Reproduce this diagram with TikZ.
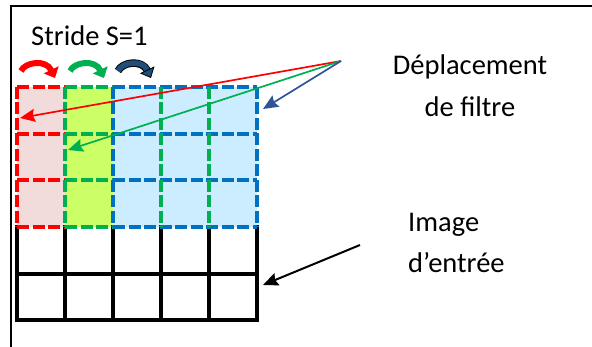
\documentclass[tikz,border=0pt]{standalone}
\usepackage{fontspec}
\setmainfont{Carlito}
\usetikzlibrary{arrows.meta}
\definecolor{cred}{HTML}{FF0000}
\definecolor{cgreen}{HTML}{00B050}
\definecolor{cblue}{HTML}{0070C0}
\definecolor{cdark}{HTML}{1F4E79}
\definecolor{cptr}{HTML}{2F5597}
\definecolor{fpink}{HTML}{F2DCDB}
\definecolor{flime}{HTML}{CCFF66}
\definecolor{fsky}{HTML}{CCECFF}
\begin{document}
\begin{tikzpicture}[x=1pt,y=-1pt,
  dashline/.style={line width=4pt, dash pattern=on 12pt off 3.5pt},
  gridline/.style={line width=4pt, black, line cap=rect},
  ptr/.style={line width=1.7pt, -{Stealth[length=15pt,width=13pt,inset=2pt]}},
  lbl/.style={font=\fontsize{28.5}{34}\selectfont, inner sep=0pt},
  bendarrow/.style={line width=6pt, -{Triangle[length=9pt,width=16pt]}}]
\useasboundingbox (0,0) rectangle (592,347);
% frame
\draw[line width=1.5pt] (11,347) -- (11,6) -- (592,6);
% fills
\fill[fpink] (17,87) rectangle (65,227);
\fill[flime] (65,87) rectangle (113,227);
\fill[fsky] (113,87) rectangle (257,227);
% black input grid
\foreach \x in {17,65,113,161,209,257} \draw[gridline] (\x,227) -- (\x,320);
\foreach \y in {273.67,320} \draw[gridline] (17,\y) -- (257,\y);
% dashed filter grid
\foreach \y in {87,133.67,180.33,227} {
  \draw[dashline, cred] (17,\y) -- (65,\y);
  \draw[dashline, cgreen] (65,\y) -- (113,\y);
  \draw[dashline, cblue] (113,\y) -- (257,\y);
}
\draw[dashline, cred] (17,87) -- (17,227);
\draw[dashline, cgreen] (65,87) -- (65,227);
\draw[dashline, cblue] (113,87) -- (113,227);
\draw[dashline, cgreen] (161,87) -- (161,227);
\draw[dashline, cgreen] (209,87) -- (209,227);
\draw[dashline, cblue] (257,87) -- (257,227);
% curved stride arrows
\draw[bendarrow, cred] (21,71) .. controls (25,62) and (46,59) .. (55,78);
\draw[bendarrow, cgreen] (70,71) .. controls (74,62) and (95,59) .. (104,78);
\draw[black, line width=7.5pt, shorten >=8pt] (118,71) .. controls (122,62) and (142,59) .. (151,78);
\draw[cdark, line width=5.5pt, -{Triangle[length=9pt,width=16pt,color=black,fill=cdark,line width=0.8pt]}] (118,71) .. controls (122,62) and (142,59) .. (151,78);
% labels
\node[lbl, anchor=base west] (stride) at (31,46) {Stride S=1};
\node[lbl, anchor=base] (dep1) at (470,75) {Déplacement};
\node[lbl, anchor=base] (dep2) at (470,117) {de filtre};
\node[lbl, anchor=base west] (img1) at (408,232) {Image};
\node[lbl, anchor=base west] (img2) at (408,273) {d’entrée};
% pointers
\coordinate (src) at (341,61);
\coordinate (tred) at (20,118);
\coordinate (tgreen) at (68,150);
\coordinate (tblue) at (263,109);
\coordinate (isrc) at (360,245);
\coordinate (itgt) at (263,285);
\draw[ptr, cred] (src) -- (tred);
\draw[ptr, cgreen] (src) -- (tgreen);
\draw[ptr, cptr] (src) -- (tblue);
\draw[ptr, black, line width=2pt] (isrc) -- (itgt);
\end{tikzpicture}
\end{document}
